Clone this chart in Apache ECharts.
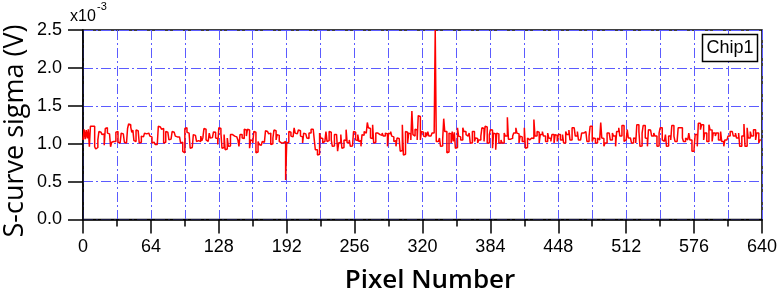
<!DOCTYPE html>
<html>
<head>
<meta charset="utf-8">
<script src="https://cdn.jsdelivr.net/npm/echarts@6/dist/echarts.min.js"></script>
<style>
html,body{margin:0;padding:0;background:#fff;}
#chart{width:780px;height:294px;}
</style>
</head>
<body>
<div id="chart"></div>
<script>
// S-curve sigma per pixel, in units of 1e-3 V (pixel index = array position)
const sigma_0_108 = [
1.05,1.19,1.06,1.18,1.07,1.19,0.96,1.23,1.23,1.22,
1.23,0.96,0.93,0.95,1.05,1.16,1.15,1.14,1.12,1.13,
0.98,1.20,1.21,1.14,1.13,1.14,0.96,1.02,1.03,1.04,
1.03,1.15,1.16,1.02,1.01,1.03,1.14,1.13,1.14,1.02,
1.01,1.02,1.20,1.26,1.25,1.22,1.15,1.18,1.04,1.03,
1.18,1.17,1.18,1.01,1.02,1.10,1.09,1.11,1.14,1.13,
1.15,1.14,1.13,1.10,1.09,1.01,1.02,1.01,0.99,0.99,
1.00,1.23,1.22,1.21,1.19,1.20,1.01,1.02,1.16,1.15,
1.16,1.05,1.06,1.05,1.16,1.15,1.14,1.10,1.09,1.10,
1.09,1.08,1.01,1.02,0.90,0.88,1.20,1.21,1.15,1.14,
1.15,0.94,0.95,0.96,1.12,1.11,1.12,1.03,1.04];
const sigma_109_149 = [
1.03,1.03,1.10,1.04,1.08,1.20,1.19,1.05,1.03,1.03,
1.14,1.075,1.08,1.07,1.155,1.15,1.075,1.07,0.99,1.21,
1.20,1.14,0.94,0.95,1.12,0.92,0.93,1.075,0.965,0.97,
1.12,1.12,1.11,1.10,1.10,1.09,1.10,1.05,0.965,1.12,
1.12];
const sigma_150_212 = [
1.075,1.07,1.19,1.18,1.10,1.19,1.18,0.94,1.05,1.04,
1.01,1.16,1.15,0.88,0.89,1.03,0.99,0.98,0.965,1.03,
1.02,1.01,1.17,1.16,1.14,1.13,1.14,0.99,1.00,1.075,
1.18,1.17,1.05,1.12,1.11,1.03,1.01,1.02,1.01,1.02,
1.03,0.52,1.01,1.02,1.16,1.15,1.10,1.09,1.10,1.21,
1.14,1.13,1.14,1.18,1.17,1.10,1.09,1.01,1.14,1.13,
1.14,1.075,1.07];
const sigma_213_324 = [
1.14,1.14,1.19,1.19,1.19,1.05,0.92,0.92,0.85,0.86,
1.14,1.075,1.07,1.01,1.03,1.03,1.16,1.03,1.04,1.16,
1.15,1.05,0.965,0.97,1.12,1.12,1.11,0.90,1.01,1.02,
1.12,0.94,0.95,1.05,1.04,1.185,1.01,1.02,1.05,0.965,
0.97,0.965,1.16,1.15,1.05,1.04,1.12,1.03,1.04,0.965,
1.12,1.11,1.16,1.14,1.13,1.28,1.21,1.20,1.075,1.07,
1.25,1.01,1.02,1.14,1.14,1.13,1.12,1.12,1.11,1.14,
1.10,1.10,1.14,1.13,0.965,1.14,1.13,1.16,1.10,1.09,
1.03,1.04,0.965,1.075,1.07,1.05,0.90,0.91,1.25,0.85,
0.86,1.16,1.15,1.01,1.14,1.13,1.05,1.43,1.12,1.10,
1.19,1.18,1.05,1.37,1.36,1.05,1.16,1.15,1.10,1.09,
1.15,1.10];
const sigma_325_430 = [
1.16,1.10,1.10,1.12,1.14,1.14,1.16,2.50,1.03,1.03,
1.05,1.075,0.965,0.97,1.05,1.33,1.16,1.16,0.88,0.89,
1.14,1.13,1.01,1.16,1.03,1.15,0.94,0.95,1.21,1.10,
1.09,1.05,1.05,1.21,1.16,1.16,1.12,1.10,1.10,1.14,
1.01,1.01,1.16,1.16,1.03,1.075,1.07,1.01,1.05,1.05,
1.10,1.21,1.20,1.03,1.23,1.22,1.01,1.01,1.12,1.185,
1.18,0.94,1.14,1.13,0.92,1.14,1.13,1.01,1.01,1.05,
1.01,1.01,1.14,1.10,1.10,1.35,1.06,1.06,1.075,1.07,
1.10,1.14,1.14,1.21,1.14,1.13,1.01,1.10,1.09,1.03,
1.03,1.21,0.94,0.95,1.075,1.05,1.05,1.075,1.075,1.07,
1.32,1.10,1.10,1.16,1.15,1.01];
const sigma_431_537 = [
1.12,1.12,1.16,1.10,1.10,1.03,1.03,1.14,1.075,1.07,
1.03,1.12,1.12,1.01,1.12,1.11,1.03,1.12,1.12,1.05,
1.05,1.12,1.01,1.01,1.16,1.12,1.12,1.18,1.05,1.05,
1.21,1.21,1.185,1.10,1.10,1.16,1.05,1.05,1.03,1.14,
1.14,1.16,1.16,1.14,1.03,1.03,1.10,1.23,1.23,1.03,
1.075,1.07,1.01,1.01,1.075,1.05,1.05,1.28,1.075,1.07,
0.965,1.01,1.01,1.14,1.14,1.15,1.05,1.05,1.14,1.10,
1.10,0.965,1.16,1.16,1.21,1.10,1.10,1.24,1.24,1.03,
1.05,1.05,1.185,1.075,1.075,1.10,1.01,1.01,1.075,1.07,
1.01,1.25,1.25,1.16,0.965,0.97,1.14,1.24,1.24,1.075,
1.07,0.965,1.185,1.18,1.16,1.10,1.10];
const sigma_538_639 = [
1.14,1.10,1.10,0.965,0.97,1.14,1.21,1.21,1.05,1.03,
1.03,1.12,0.965,0.97,1.10,1.10,1.05,1.24,1.24,1.10,
1.03,1.03,1.05,1.21,1.21,1.21,1.21,1.075,1.03,1.03,
1.075,1.05,1.05,1.14,1.05,1.05,0.90,0.90,0.94,1.12,
1.12,0.965,1.27,1.27,1.185,1.25,1.25,1.05,1.14,1.14,
1.03,1.03,1.25,1.185,1.18,1.03,1.14,1.14,1.10,1.14,
1.14,1.05,1.05,1.16,1.03,1.03,0.965,1.05,1.05,1.075,
1.10,1.10,1.16,1.16,1.185,1.10,1.10,1.14,1.075,1.075,
1.14,0.965,0.965,1.10,1.10,1.26,0.965,0.965,1.21,1.075,
1.075,1.16,1.10,1.10,1.185,1.185,1.05,1.14,1.14,1.01,1.05,1.05];

const sigma = [].concat(sigma_0_108, sigma_109_149, sigma_150_212, sigma_213_324,
                        sigma_325_430, sigma_431_537, sigma_538_639);

const xTicks = [0, 64, 128, 192, 256, 320, 384, 448, 512, 576, 640];
const yTicks = ['0.0', '0.5', '1.0', '1.5', '2.0', '2.5'];
const legendName = 'Chip1';
const xTitle = 'Pixel Number';
const yTitle = 'S-curve sigma (V)';

const gridBlue = '#5b5bff';
const dashPattern = [10, 3, 2, 3];
const labelFont = 'Liberation Sans';

const chart = echarts.init(document.getElementById('chart'), null, {renderer: 'canvas'});
chart.setOption({
  animation: false,
  backgroundColor: '#fff',
  grid: {left: 83, top: 30, width: 681, height: 189.5, show: true,
         borderColor: '#000', borderWidth: 1.5, backgroundColor: 'transparent'},
  xAxis: {
    type: 'value', min: xTicks[0], max: xTicks[xTicks.length - 1], interval: 64,
    axisLine: {show: true, onZero: false, lineStyle: {color: '#000', width: 1.5}},
    axisTick: {show: true, length: 14, lineStyle: {color: '#000', width: 1.5}},
    minorTick: {show: true, splitNumber: 2, length: 7, lineStyle: {color: '#000', width: 1.5}},
    splitLine: {show: true, lineStyle: {color: gridBlue, width: 1, type: dashPattern}},
    minorSplitLine: {show: true, lineStyle: {color: gridBlue, width: 1, type: dashPattern}},
    axisLabel: {color: '#000', fontSize: 18, fontFamily: labelFont, margin: 19,
                showMinLabel: true, showMaxLabel: true,
                formatter: v => xTicks.includes(v) ? String(v) : ''}
  },
  yAxis: {
    type: 'value', min: 0, max: 2.5, interval: 0.5,
    axisLine: {show: true, lineStyle: {color: '#000', width: 1.5}},
    axisTick: {show: true, length: 15, lineStyle: {color: '#000', width: 1.5}},
    splitLine: {show: true, lineStyle: {color: gridBlue, width: 1, type: dashPattern}},
    axisLabel: {color: '#000', fontSize: 18, fontFamily: labelFont, margin: 21,
                formatter: v => yTicks[Math.round(v / 0.5)]}
  },
  series: [{
    name: legendName, type: 'line', step: 'end', showSymbol: false,
    data: sigma.map((v, i) => [i, v]),
    lineStyle: {color: '#ff0000', width: 1.5},
    itemStyle: {color: '#ff0000'}
  }],
  graphic: [
    {type: 'text', x: 15, y: 131, rotation: Math.PI / 2,
     style: {text: yTitle, textAlign: 'center', textVerticalAlign: 'middle',
             font: '27px "Open Sans"', fill: '#000'}},
    {type: 'text', x: 430, y: 281,
     style: {text: xTitle, textAlign: 'center', textVerticalAlign: 'middle',
             font: '600 26px "Open Sans"', fill: '#000'}},
    {type: 'text', x: 70, y: 17,
     style: {text: 'x10', textAlign: 'left', textVerticalAlign: 'middle',
             font: '16px "Liberation Sans"', fill: '#000'}},
    {type: 'text', x: 97, y: 7,
     style: {text: '-3', textAlign: 'left', textVerticalAlign: 'middle',
             font: '11px "Liberation Sans"', fill: '#000'}},
    {type: 'rect', shape: {x: 702.5, y: 34.5, width: 55, height: 27},
     style: {fill: '#fff', stroke: '#000', lineWidth: 1.5}, z: 100},
    {type: 'text', x: 730, y: 48.5, z: 101,
     style: {text: legendName, textAlign: 'center', textVerticalAlign: 'middle',
             font: '18px "Liberation Sans"', fill: '#000'}}
  ]
});
</script>
</body>
</html>
